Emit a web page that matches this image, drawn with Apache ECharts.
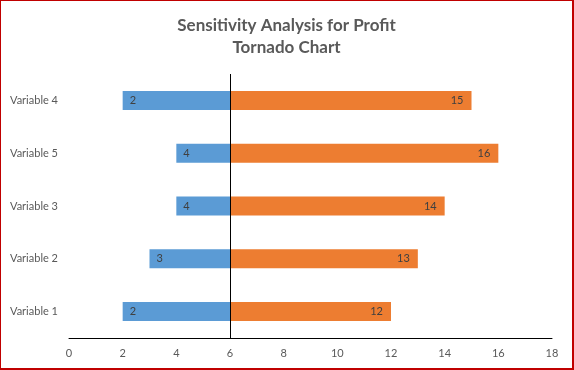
<!DOCTYPE html>
<html><head><meta charset="utf-8">
<script src="https://cdn.jsdelivr.net/npm/echarts@6/dist/echarts.min.js"></script>
<style>
html,body{margin:0;padding:0;background:#fff;}
#c{width:574px;height:370px;box-sizing:border-box;border:1px solid #c00000;border-right-width:2px;border-bottom-width:2px;}
</style></head>
<body><div id="c"></div>
<script>
const categories = ['Variable 1','Variable 2','Variable 3','Variable 5','Variable 4'];
const lowValues = [2, 3, 4, 4, 2];
const highValues = [12, 13, 14, 16, 15];
const baseValue = 6;
const xTicks = {min: 0, max: 18, interval: 2};

const chart = echarts.init(document.getElementById('c'), null, {renderer:'canvas'});
const labelStyle = {fontFamily:'Lato', fontSize:11, color:'#404040'};
chart.setOption({
  animation:false,
  title:{text:'Sensitivity Analysis for Profit\nTornado Chart', left:'center', top:9,
    textStyle:{fontFamily:'Lato', fontWeight:'bold', fontSize:17, color:'#595959', lineHeight:22}},
  grid:{left:68, right:20, top:73, bottom:30},
  xAxis:{type:'value', min:xTicks.min, max:xTicks.max, interval:xTicks.interval,
    axisLine:{show:true, lineStyle:{color:'#000', width:1}}, axisTick:{show:false}, splitLine:{show:false},
    axisLabel:{fontFamily:'Lato', fontSize:11, color:'#595959', margin:10}},
  yAxis:{type:'category', data:categories, axisLine:{show:false}, axisTick:{show:false},
    axisLabel:{fontFamily:'Lato', fontSize:11, color:'#595959', align:'left', margin:59}},
  series:[
    {type:'bar', stack:'t', data:lowValues, itemStyle:{color:'transparent'}, barWidth:19, silent:true},
    {type:'bar', stack:'t', data:lowValues.map(v=>baseValue-v), itemStyle:{color:'#5B9BD5'}, barWidth:19,
      label:{show:true, position:'insideLeft', distance:7, formatter:p=>lowValues[p.dataIndex], ...labelStyle}},
    {type:'bar', stack:'t', data:highValues.map(v=>v-baseValue), itemStyle:{color:'#ED7D31'}, barWidth:19,
      label:{show:true, position:'insideRight', distance:8, formatter:p=>highValues[p.dataIndex], ...labelStyle},
      markLine:{silent:true, symbol:'none', label:{show:false}, lineStyle:{color:'#000', width:1, type:'solid'},
        data:[{xAxis:baseValue}]}}
  ]
});
</script></body></html>
